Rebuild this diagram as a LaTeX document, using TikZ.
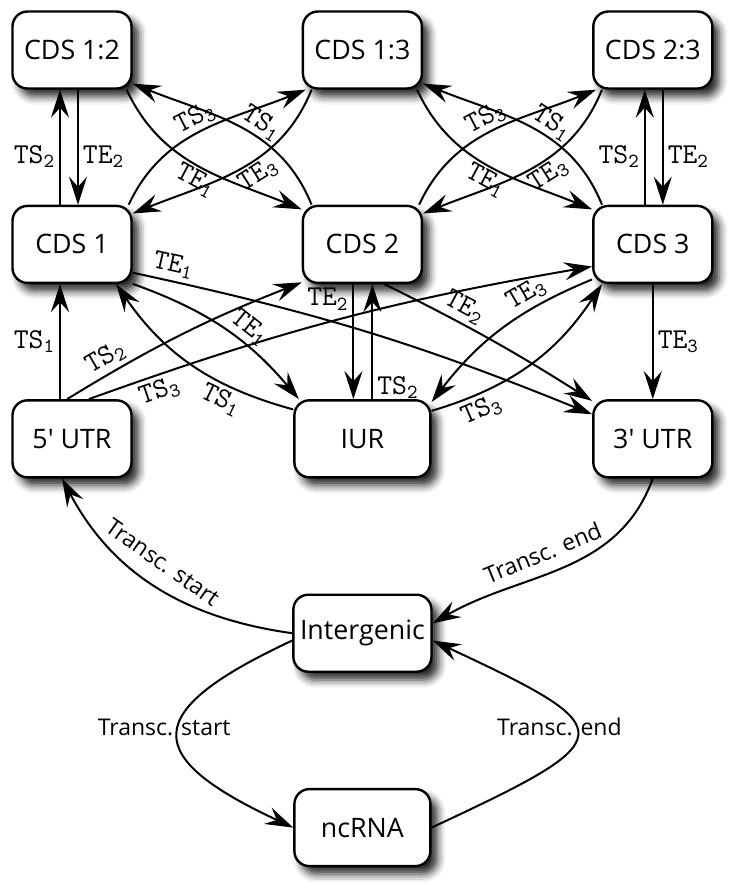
\documentclass[tikz,border=0pt]{standalone}
\usepackage[no-math]{fontspec}
\newfontfamily\boxfont[Ligatures=ResetAll]{Open Sans}
\usepackage{tikz}
\usetikzlibrary{positioning}
\usetikzlibrary{arrows.meta}
\usetikzlibrary{shadows.blur}

\newcommand{\ts}[1]{$\mathtt{TS}_{\mathtt{#1}}$}
\newcommand{\te}[1]{$\mathtt{TE}_{\mathtt{#1}}$}

\begin{document}
\begin{tikzpicture}[ node distance = 57.5pt and 84.5pt
                   , line width = 1pt
                   , >={Stealth[length=14pt, width=9pt, inset=5pt]}
                   , every node/.style = { rectangle
                                       , rounded corners = 7.5pt
                                       , draw = black
                                       , line width = 1.2pt
                                       , fill = white
                                       , align = center
                                       , minimum width = 59.5pt
                                       , minimum height = 38.5pt
                                       , font = \boxfont\fontsize{13.4}{16}\selectfont
                                       , blur shadow = {shadow xshift=3.5pt, shadow yshift=-4pt,
                                                        shadow blur radius=4pt, shadow opacity=85} }
                   ]

    \useasboundingbox (0,0) rectangle (368pt,-442.5pt);

    \tikzset{ wide/.style = {minimum width=68pt}}
    %%
    %% States
    %%
    \node (c12)   at (36pt,-25pt)            {CDS 1:2};
    \node (c13)   [right = of c12]          {CDS 1:3};
    \node (c23)   [right = of c13]          {CDS 2:3};
    \node (cds1)  [below = of c12]          {CDS 1};
    \node (cds2)  [below = of c13]          {CDS 2};
    \node (cds3)  [below = of c23]          {CDS 3};
    \node (utr5)  [below = of cds1]         {5\textquotesingle\ UTR};
    \node (iur)   [wide, below = of cds2]   {IUR};
    \node (utr3)  [below = of cds3]         {3\textquotesingle\ UTR};
    \node (inter) [wide, below = of iur]    {Intergenic};
    \node (ncrna) [wide, below = of inter]  {ncRNA};

    \tikzset{every node/.style={font=\fontsize{14.5}{17}\selectfont, inner sep=2pt},
             trlabel/.style={font=\boxfont\fontsize{11.5}{14}\selectfont}}
    %%
    %% Transitions (arrows)
    %%
    % overlap states
    \path[->] ([xshift=-6pt]cds1.north) edge node[left, pos=0.42] {\ts{2}} ([xshift=-6pt]c12.south);
    \path[->] ([xshift=3pt]c12.south) edge node[right, pos=0.58] {\te{2}} ([xshift=3pt]cds1.north);
    \path[->] ([xshift=-4pt]cds3.north) edge node[left, pos=0.42] {\ts{2}} ([xshift=-4pt]c23.south);
    \path[->] ([xshift=5pt]c23.south) edge node[right, pos=0.58] {\te{2}} ([xshift=5pt]cds3.north);
    \path[->] (c12.-36) edge[out=-65, in=158] node[below, sloped, pos=0.52, inner sep=1pt] {\te{1}} (cds2.150);
    \path[->] (cds2.142) edge[out=112, in=-22] node[above, sloped, pos=0.42, inner sep=1pt] {\ts{1}} (c12.-29);
    \path[->] (cds1.35) edge[out=65, in=-158] node[above, sloped, pos=0.5, inner sep=1pt] {\ts{3}} (c13.-145);
    \path[->] (c13.-142) edge[out=-112, in=22] node[below, sloped, pos=0.44, inner sep=1pt] {\te{3}} (cds1.27);
    \path[->] (c13.-36) edge[out=-65, in=158] node[below, sloped, pos=0.52, inner sep=1pt] {\te{1}} (cds3.150);
    \path[->] (cds3.142) edge[out=112, in=-22] node[above, sloped, pos=0.42, inner sep=1pt] {\ts{1}} (c13.-29);
    \path[->] (cds2.35) edge[out=65, in=-158] node[above, sloped, pos=0.5, inner sep=1pt] {\ts{3}} (c23.-145);
    \path[->] (c23.-142) edge[out=-112, in=22] node[below, sloped, pos=0.44, inner sep=1pt] {\te{3}} (cds2.27);
    % UTRs and IUR
    \path[->] ([xshift=-6pt]utr5.north) edge node[left] {\ts{1}} ([xshift=-6pt]cds1.south);
    \path[->] (utr5.97) edge[bend left=5] node[above, sloped, pos=0.19] {\ts{2}} (cds2.-148);
    \path[->] (utr5.67) edge[bend left=5] node[below, sloped, pos=0.12] {\ts{3}} (cds3.-160);
    \path[->] (cds1.-25) edge[bend left=5] node[above, sloped, pos=0.07] {\te{1}} (utr3.158);
    \path[->] (cds1.-33) edge[bend left=15] node[above, sloped, pos=0.6] {\te{1}} (iur.148);
    \path[->] (iur.157) edge[bend left=20] node[below, sloped, pos=0.3] {\ts{1}} (cds1.-42);
    \path[->] ([xshift=-4.5pt]cds2.south) edge node[left, pos=0.13] {\te{2}} ([xshift=-4.5pt]iur.north);
    \path[->] ([xshift=5pt]iur.north) edge node[right, pos=0.1] {\ts{2}} ([xshift=5pt]cds2.south);
    \path[->] (cds2.-61) edge[bend left=3] node[above, sloped, pos=0.33] {\te{2}} (utr3.148);
    \path[->] (cds3.-150) edge[bend right=15] node[above, sloped, pos=0.3] {\te{3}} (iur.28);
    \path[->] (iur.22) edge[bend right=20] node[below, sloped, pos=0.2] {\ts{3}} (cds3.-142);
    \path[->] (cds3) edge node[right] {\te{3}} (utr3);
    % intergenic and ncRNA
    \path[->] (inter.west) edge[out=172, in=-62] node[above=5pt, sloped, pos=0.53, trlabel] {Transc. start} ([xshift=-5pt]utr5.south);
    \path[->] (utr3.south) edge[out=-110, in=30] node[above=4pt, sloped, pos=0.55, trlabel] {Transc. end} (inter.8);
    \path[->] (inter.186) edge[out=205, in=155, looseness=2.3] node[trlabel, xshift=-7pt, yshift=3.5pt] {Transc. start} (ncrna.west);
    \path[->] (ncrna.east) edge[out=25, in=-25, looseness=2.9] node[trlabel, xshift=-8.5pt, yshift=3.5pt] {Transc. end} (inter.-6);
\end{tikzpicture}
\end{document}
